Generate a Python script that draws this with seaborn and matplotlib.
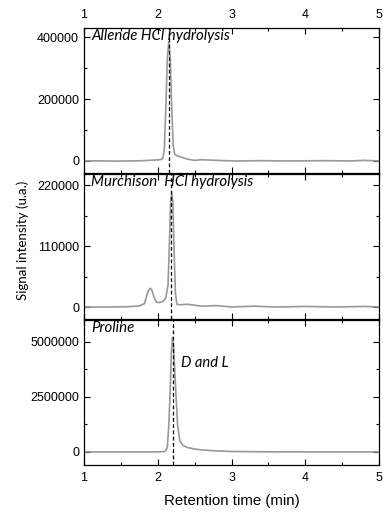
import numpy as np
import pandas as pd
import seaborn as sns
import matplotlib.pyplot as plt
from matplotlib.ticker import MultipleLocator

# chromatogram traces (retention time in min, signal in u.a.)
allende_t = [1.0, 1.2, 1.4, 1.6, 1.8, 1.95, 2.03, 2.07, 2.09, 2.11, 2.13, 2.15, 2.17, 2.19, 2.21, 2.23,
             2.26, 2.3, 2.35, 2.4, 2.5, 2.6, 2.7, 2.9, 3.1, 3.4, 3.7, 4.0, 4.3, 4.6, 4.8, 4.9, 5.0]
allende_y = [0, 500, -500, 0, 1000, 3000, 4000, 8000, 40000, 170000, 330000, 385000, 330000, 170000, 50000, 22000,
             17000, 14000, 10000, 6000, 2000, 4000, 3000, 1000, 0, 1000, 0, 500, 1000, 0, 2000, 1000, 0]

murchison_t = [1.0, 1.3, 1.6, 1.75, 1.82, 1.85, 1.88, 1.9, 1.92, 1.95, 1.98, 2.02, 2.07, 2.11, 2.14, 2.16, 2.175,
               2.19, 2.205, 2.22, 2.24, 2.26, 2.3, 2.4, 2.6, 2.8, 3.0, 3.3, 3.6, 4.0, 4.4, 4.8, 5.0]
murchison_y = [0, 0, 500, 2000, 6000, 20000, 31000, 34000, 31000, 18000, 9000, 8000, 10000, 16000, 40000, 120000, 190000,
               205000, 190000, 110000, 25000, 5000, 4000, 5000, 1500, 2500, 0, 1500, 0, 1000, 0, 1000, 0]

proline_t = [1.0, 1.5, 2.0, 2.1, 2.13, 2.15, 2.17, 2.185, 2.2, 2.215, 2.23, 2.25, 2.27, 2.3, 2.34, 2.4, 2.5,
             2.6, 2.8, 3.0, 3.3, 3.6, 4.0, 4.5, 5.0]
proline_y = [0, 0, 0, 20000, 200000, 1200000, 2800000, 4500000, 5200000, 4800000, 3800000, 2400000, 1200000, 500000,
             300000, 200000, 130000, 90000, 45000, 20000, 8000, 3000, 0, 0, 0]

panel_names = ["Allende HCl hydrolysis", "Murchison  HCl hydrolysis", "Proline"]
dash_pos = [2.152, 2.18, 2.205]
y_limits = [(-39000, 429000), (-21600, 239800), (-590000, 5990000)]
y_major = [200000, 110000, 2500000]

plt.rcParams['font.family'] = ['Liberation Sans', 'DejaVu Sans']
fig = plt.figure(figsize=(3.83, 5.12), dpi=100)

boxes = [[0.219, 0.662, 0.771, 0.283],
         [0.219, 0.377, 0.771, 0.283],
         [0.219, 0.092, 0.771, 0.283]]

traces = [(allende_t, allende_y), (murchison_t, murchison_y), (proline_t, proline_y)]

for i, (t, y) in enumerate(traces):
    ax = fig.add_axes(boxes[i])
    df = pd.DataFrame({"t": t, "y": y})
    sns.lineplot(data=df, x="t", y="y", ax=ax, color="#999999", linewidth=1.2, sort=False)
    ax.axvline(dash_pos[i], color="black", linestyle=(0, (3, 2)), linewidth=0.9)
    ax.set_xlim(1, 5)
    ax.set_ylim(*y_limits[i])
    ax.xaxis.set_major_locator(MultipleLocator(1))
    ax.xaxis.set_minor_locator(MultipleLocator(0.5))
    ax.yaxis.set_major_locator(MultipleLocator(y_major[i]))
    ax.yaxis.set_minor_locator(MultipleLocator(y_major[i] / 2))
    ax.tick_params(which="both", direction="in", top=True, right=True, labelsize=9, width=0.8)
    ax.tick_params(which="major", length=4)
    ax.tick_params(which="minor", length=2.5)
    ax.tick_params(axis="x", labeltop=(i == 0), labelbottom=(i == 2), pad=5)
    ax.ticklabel_format(axis="y", style="plain", useOffset=False)
    ax.set_xlabel("")
    ax.set_ylabel("")
    for s in ax.spines.values():
        s.set_linewidth(0.9)
    ax.text(0.025, 0.995, panel_names[i], transform=ax.transAxes, ha="left", va="top",
            fontsize=10.8, style="italic", family=["Lato", "DejaVu Sans"])
    if i == 2:
        ax.text(0.33, 0.70, "D and L", transform=ax.transAxes, ha="left", va="center",
                fontsize=10.6, style="italic", family=["Lato", "DejaVu Sans"])
        ax.set_xlabel("Retention time (min)", fontsize=10.8, labelpad=7)

fig.text(0.060, 0.531, "Signal intensity (u.a.)", rotation=90, ha="center", va="center",
         fontsize=9.5, family=["Lato", "DejaVu Sans"])

fig.savefig("out.png", dpi=100)
